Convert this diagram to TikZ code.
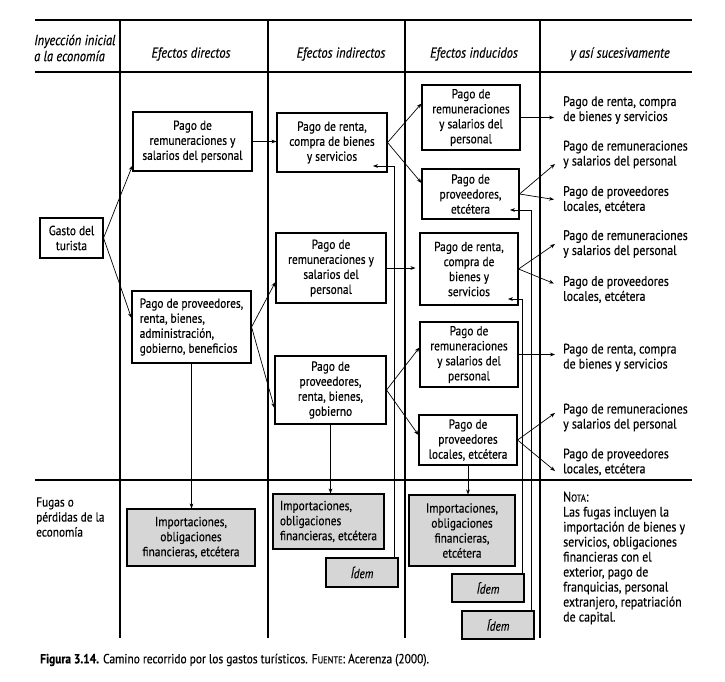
\documentclass[tikz,border=0pt]{standalone}
\usepackage{fontspec}
\setmainfont{PT Sans}[FakeStretch=0.86, FakeBold=0.35]
\usetikzlibrary{arrows.meta}
\newcommand{\boxfont}{\fontsize{13.2}{15}\selectfont}
\newcommand{\rfont}{\fontsize{13.8}{15}\selectfont}
\begin{document}
\begin{tikzpicture}[x=1pt,y=-1pt,
  box/.style={draw, line width=1.1pt, inner sep=0pt, align=center, font=\boxfont},
  fuga/.style={box, fill=black!16},
  conn/.style={line width=0.7pt, -{Stealth[length=5pt,width=3.8pt]}},
  rule/.style={line width=1.1pt},
  rtxt/.style={anchor=west, align=left, inner sep=0pt, font=\rfont},
  head/.style={inner sep=0pt, font=\fontsize{14.5}{16}\selectfont\itshape}]
\useasboundingbox[fill=white] (0,0) rectangle (725,681);

% table rules
\draw[rule] (35,20) -- (692,20);
\draw[rule] (35,72) -- (692,72);
\draw[rule] (35,480) -- (692,480);
\foreach \x in {120,268,405,540} \draw[rule] (\x,20) -- (\x,638);

% headers
\node[head, anchor=west, align=left] (h0) at (34,48) {Inyección inicial\\a la economía};
\node[head] (h1) at (191,54) {Efectos directos};
\node[head] (h2) at (341,54) {Efectos indirectos};
\node[head] (h3) at (474,54) {Efectos inducidos};
\node[head] (h4) at (620,54) {y así sucesivamente};

% boxes
\node[box, minimum width=63pt, minimum height=40pt] (gasto) at (71.5,238) {Gasto del\\turista};
\node[box, minimum width=119pt, minimum height=59pt] (d1) at (192.5,141.5) {Pago de\\remuneraciones y\\salarios del personal};
\node[box, align=left, minimum width=119pt, minimum height=72pt] (d2) at (191.5,327) {Pago de proveedores,\\renta, bienes,\\administración,\\gobierno, beneficios};
\node[box, minimum width=110pt, minimum height=59pt] (i1) at (332,142.5) {Pago de renta,\\compra de bienes\\y servicios};
\node[box, minimum width=110pt, minimum height=70pt] (i2) at (331,268) {Pago de\\remuneraciones y\\salarios del\\personal};
\node[box, minimum width=111pt, minimum height=68pt] (i3) at (330.5,390) {Pago de\\proveedores,\\renta, bienes,\\gobierno};
\node[box, minimum width=98pt, minimum height=65pt] (n1) at (471,117.5) {Pago de\\remuneraciones\\y salarios del\\personal};
\node[box, minimum width=97pt, minimum height=50pt] (n2) at (470.5,194) {Pago de\\proveedores,\\etcétera};
\node[box, minimum width=98pt, minimum height=72pt] (n3) at (469,269) {Pago de renta,\\compra de\\bienes y\\servicios};
\node[box, minimum width=98pt, minimum height=65pt] (n4) at (469,354.5) {Pago de\\remuneraciones\\y salarios del\\personal};
\node[box, minimum width=98pt, minimum height=50pt] (n5) at (468,440) {Pago de\\proveedores\\locales, etcétera};

% right column texts
\node[rtxt] (r1) at (563,110) {Pago de renta, compra\\de bienes y servicios};
\node[rtxt] (r2) at (563,154.5) {Pago de remuneraciones\\y salarios del personal};
\node[rtxt] (r3) at (563,199.5) {Pago de proveedores\\locales, etcétera};
\node[rtxt] (r4) at (563,244) {Pago de remuneraciones\\y salarios del personal};
\node[rtxt] (r5) at (563,289.5) {Pago de proveedores\\locales, etcétera};
\node[rtxt] (r6) at (563,357.5) {Pago de renta, compra\\de bienes y servicios};
\node[rtxt] (r7) at (563,417.5) {Pago de remuneraciones\\y salarios del personal};
\node[rtxt] (r8) at (563,462) {Pago de proveedores\\locales, etcétera};

% leak row
\node[rtxt, font=\boxfont] (fl) at (36,517) {Fugas o\\pérdidas de la\\economía};
\node[fuga, minimum width=128pt, minimum height=57pt] (f1) at (191,537.5) {Importaciones,\\obligaciones\\financieras, etcétera};
\node[fuga, align=left, minimum width=111pt, minimum height=55pt] (f2) at (328.5,521.5) {Importaciones,\\obligaciones\\financieras, etcétera};
\node[fuga, minimum width=72pt, minimum height=29pt] (idem1) at (362,572.5) {\itshape Ídem};
\node[fuga, minimum width=106pt, minimum height=71pt] (f3) at (462,530.5) {Importaciones,\\obligaciones\\financieras,\\etcétera};
\node[fuga, minimum width=72pt, minimum height=28pt] (idem2) at (488,588) {\itshape Ídem};
\node[fuga, minimum width=72pt, minimum height=28pt] (idem3) at (498,625) {\itshape Ídem};
\node[rtxt] (nota) at (563,558) {N{\fontsize{10}{15}\selectfont OTA}:\\Las fugas incluyen la\\importación de bienes y\\servicios, obligaciones\\financieras con el\\exterior, pago de\\franquicias, personal\\extranjero, repatriación\\de capital.};

% caption
\node[anchor=west, inner sep=0pt, font=\fontsize{13.3}{15}\selectfont] (cap) at (40,660) {\textbf{Figura 3.14.} Camino recorrido por los gastos turísticos. F{\fontsize{9.8}{15}\selectfont UENTE}: Acerenza (2000).};

% connectors
\draw[conn] (gasto.east) -- ([yshift=6pt]d1.south west);
\draw[conn] (gasto.east) -- ([yshift=9pt]d2.west);
\draw[conn] (d1.east) -- (d1.east -| i1.west);
\draw[conn] (d2.east) -- ([yshift=-14pt]i2.west);
\draw[conn] (d2.east) -- ([yshift=-18pt]i3.west);
\draw[conn] (i1.east) -- ([yshift=14pt]n1.west);
\draw[conn] (i1.east) -- ([yshift=11pt]n2.west);
\draw[conn, shorten >=4pt] (i2.east) -- (i2.east -| n3.west);
\draw[conn] (i3.east) -- ([yshift=7pt]n4.west);
\draw[conn] (i3.east) -- ([yshift=5pt]n5.west);

\draw[conn, shorten >=9pt] (n1.east) -- (n1.east -| r1.west);
\draw[conn] (n2.east) -- ([xshift=-8pt,yshift=-9.5pt]r2.west);
\draw[conn] (n2.east) -- ([xshift=-9pt]r3.west);
\draw[conn] (n3.east) -- ([xshift=-8pt]r4.west);
\draw[conn] (n3.east) -- ([xshift=-9pt,yshift=6pt]r5.west);
\draw[conn, shorten >=8pt] (n4.east) -- (n4.east -| r6.west);
\draw[conn] (n5.east) -- ([xshift=-8pt,yshift=4.5pt]r7.west);
\draw[conn] (n5.east) -- ([xshift=-8pt,yshift=-9pt]r8.west);

\draw[conn] (d2.south) -- (d2.south |- f1.north);
\draw[conn] (i3.south) -- (i3.south |- f2.north);
\draw[conn] (n5.south) -- (n5.south |- f3.north);

% feedback lines
\coordinate (i1in) at (373,166);
\coordinate (n3in) at (508,299);
\coordinate (n2in) at (510,210);
\draw[conn] ([xshift=-4pt]idem1.north east) |- (i1in);
\draw[conn] ([xshift=-2pt]idem2.north east) |- (n3in);
\draw[conn] ([xshift=-3pt]idem3.north east) |- (n2in);
\end{tikzpicture}
\end{document}
